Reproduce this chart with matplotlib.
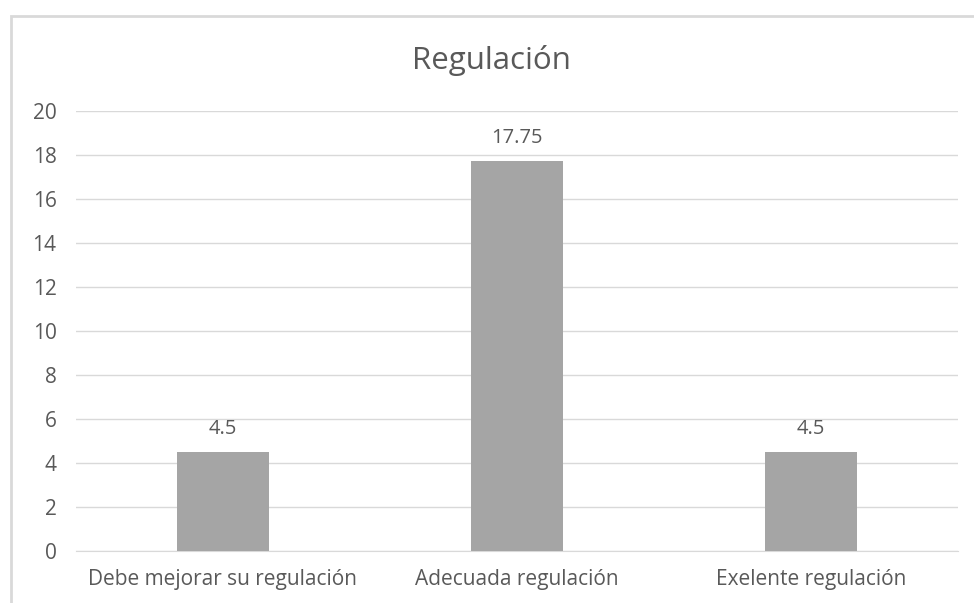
import matplotlib.pyplot as plt
from matplotlib.patches import Rectangle

categories = ['Debe mejorar su regulación', 'Adecuada regulación', 'Exelente regulación']
values = [4.5, 17.75, 4.5]
value_labels = ['4.5', '17.75', '4.5']
yticks = [0, 2, 4, 6, 8, 10, 12, 14, 16, 18, 20]

plt.rcParams['font.family'] = ['Open Sans', 'DejaVu Sans']
txt = '#595959'
grid = '#d9d9d9'

fig = plt.figure(figsize=(9.74, 6.03), dpi=100)
ax = fig.add_axes([76/974, 1 - 551/603, 882/974, 440/603])

x = range(len(categories))
ax.bar(x, values, width=0.313, color='#a5a5a5', zorder=3)
for xi, v, lab in zip(x, values, value_labels):
    ax.annotate(lab, (xi, v), xytext=(0, 9), textcoords='offset points',
                ha='center', va='bottom', fontsize=14.5, color=txt)

ax.set_xlim(-0.5, 2.5)
ax.set_ylim(0, 20)
ax.set_yticks(yticks)
ax.set_xticks(list(x))
ax.set_xticklabels(categories)
ax.tick_params(axis='both', length=0, labelsize=15, colors=txt)
ax.tick_params(axis='y', pad=14)
ax.tick_params(axis='x', pad=13)
ax.yaxis.grid(True, color=grid, lw=1, zorder=0)
for s in ['top', 'right', 'left']:
    ax.spines[s].set_visible(False)
ax.spines['bottom'].set_color(grid)

fig.text(0.5 + 0.005, 1 - 60/603, 'Regulación', ha='center', va='center',
         fontsize=22.5, color=txt)

fig.patches.append(Rectangle((11/974, -0.1), 2, 1.1 - 16/603, transform=fig.transFigure,
                             fill=False, edgecolor=grid, lw=2))

fig.savefig('out.png', dpi=100)
